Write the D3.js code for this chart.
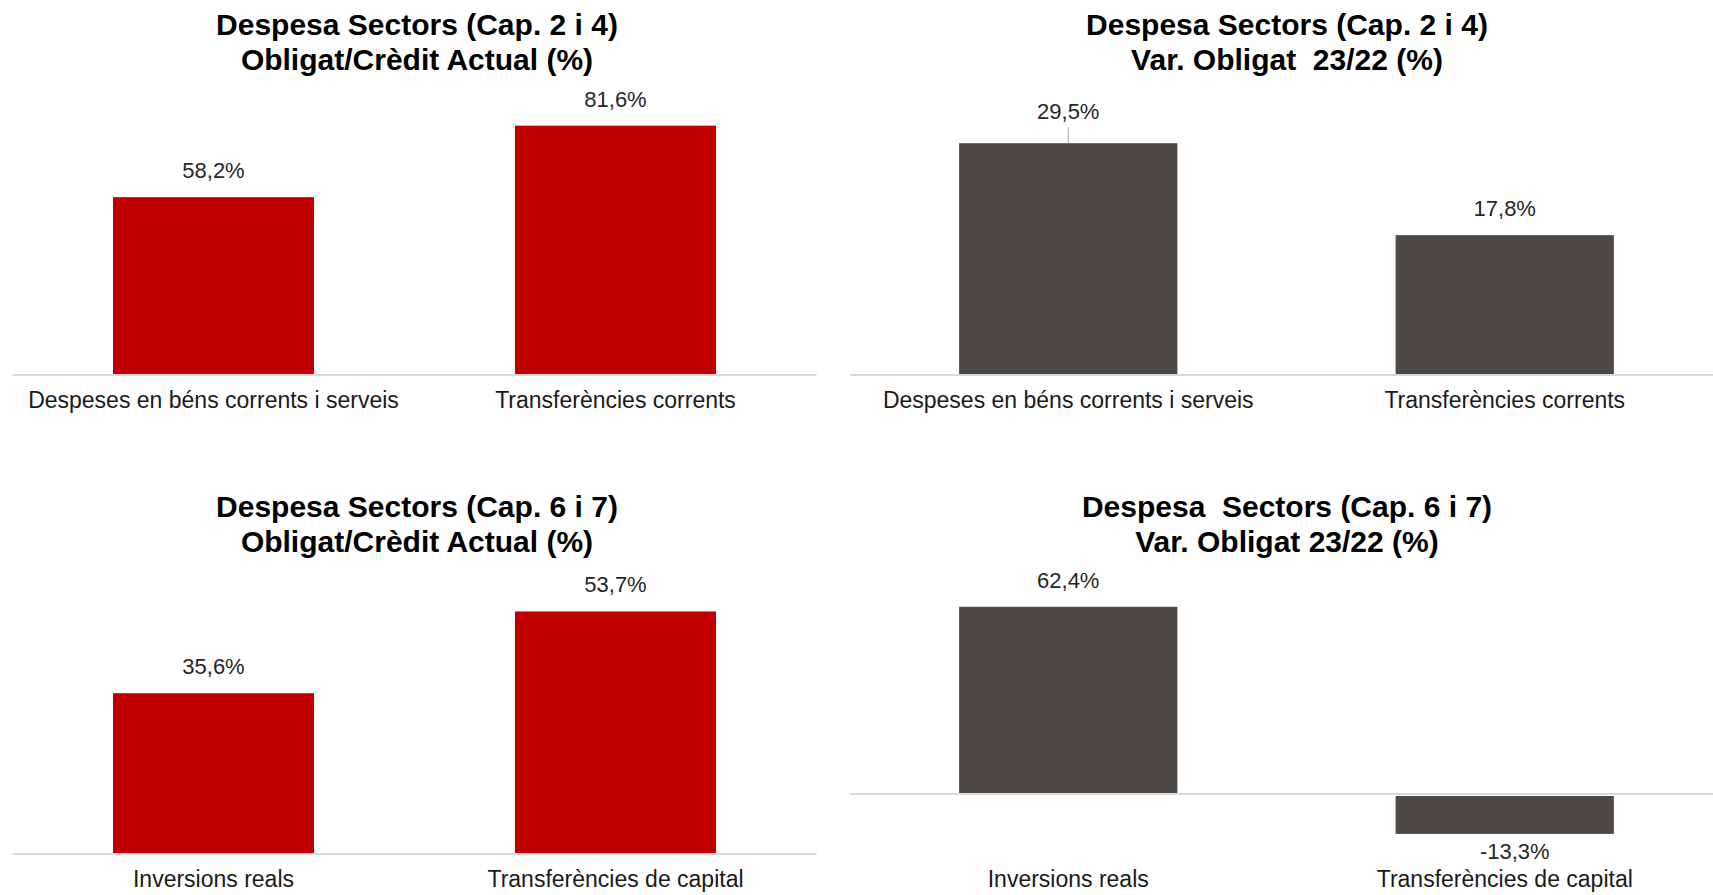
<!DOCTYPE html>
<html>
<head>
<meta charset="utf-8">
<script src="https://cdn.jsdelivr.net/npm/d3@7"></script>
<style>
  html, body { margin: 0; padding: 0; background: #ffffff; }
  svg { display: block; }
  text { font-family: "Liberation Sans", Arial, sans-serif; }
</style>
</head>
<body>
<svg id="chart" width="1713" height="895"></svg>
<script>
// ---- Data ----
const catsCap24 = ["Despeses en béns corrents i serveis", "Transferències corrents"];
const catsCap67 = ["Inversions reals", "Transferències de capital"];

const execCap24 = [58.2, 81.6];   // Obligat/Crèdit Actual (%) Cap. 2 i 4
const varCap24  = [29.5, 17.8];   // Var. Obligat 23/22 (%) Cap. 2 i 4
const execCap67 = [35.6, 53.7];   // Obligat/Crèdit Actual (%) Cap. 6 i 7
const varCap67  = [62.4, -13.3];  // Var. Obligat 23/22 (%) Cap. 6 i 7

const titlesTL = ["Despesa Sectors (Cap. 2 i 4)", "Obligat/Crèdit Actual (%)"];
const titlesTR = ["Despesa Sectors (Cap. 2 i 4)", "Var. Obligat  23/22 (%)"];
const titlesBL = ["Despesa Sectors (Cap. 6 i 7)", "Obligat/Crèdit Actual (%)"];
const titlesBR = ["Despesa  Sectors (Cap. 6 i 7)", "Var. Obligat 23/22 (%)"];

// value-axis extents (hidden axes)
const yDomainTL = [0, 90];
const yDomainTR = [0, 35];
const yDomainBL = [0, 60];
const yDomainBR = [-20, 80];

const fmt = v => d3.format(".1f")(v).replace(".", ",").replace("\u2212", "-") + "%";

// ---- Layout ----
const RED = "#c00000", GREY = "#4d4947";
const panels = [
  { cats: catsCap24, vals: execCap24, titles: titlesTL, dom: yDomainTL, color: RED,
    x: [12.5, 816.5], y: [375, 100], titleX: 417, titleY: 35, labelAtBottom: false },
  { cats: catsCap24, vals: varCap24, titles: titlesTR, dom: yDomainTR, color: GREY,
    x: [850, 1723], y: [375, 100], titleX: 1287, titleY: 35, labelAtBottom: false, leader: [0] },
  { cats: catsCap67, vals: execCap67, titles: titlesBL, dom: yDomainBL, color: RED,
    x: [12.5, 816.5], y: [854, 583], titleX: 417, titleY: 517, labelAtBottom: false },
  { cats: catsCap67, vals: varCap67, titles: titlesBR, dom: yDomainBR, color: GREY,
    x: [850, 1723], y: [854, 554], titleX: 1287, titleY: 517, labelAtBottom: true }
];

const svg = d3.select("#chart");

panels.forEach(p => {
  const g = svg.append("g");
  const x = d3.scaleBand().domain(p.cats).range(p.x).paddingInner(0.5).paddingOuter(0.25);
  const y = d3.scaleLinear().domain(p.dom).range(p.y);
  const data = p.cats.map((c, i) => ({ c, v: p.vals[i], i }));

  // title
  const t = g.append("text")
    .attr("text-anchor", "middle")
    .attr("font-weight", "bold")
    .attr("font-size", 30)
    .attr("fill", "#000")
    .style("white-space", "pre");
  p.titles.forEach((s, i) => {
    t.append("tspan").attr("x", p.titleX).attr("y", p.titleY + i * 35).text(s);
  });

  // bars
  g.selectAll("rect.bar").data(data).join("rect")
    .attr("class", "bar")
    .attr("x", d => x(d.c))
    .attr("width", x.bandwidth())
    .attr("y", d => d.v >= 0 ? y(d.v) : y(0) + 2)
    .attr("height", d => d.v >= 0 ? y(0) - y(d.v) : y(d.v) - y(0) - 2)
    .attr("fill", p.color);

  // zero line
  g.append("line")
    .attr("x1", p.x[0]).attr("x2", Math.min(p.x[1], 1713))
    .attr("y1", y(0)).attr("y2", y(0))
    .attr("stroke", "#d9d9d9").attr("stroke-width", 2);

  // data labels
  const lead = p.leader || [];
  data.forEach(d => {
    const cx = x(d.c) + x.bandwidth() / 2;
    let ly, dx = 0;
    if (d.v >= 0) {
      ly = y(d.v) - 19 - (lead.includes(d.i) ? 5 : 0);
    } else {
      ly = y(d.v) + 25; dx = 10;
    }
    g.append("text")
      .attr("x", cx + dx).attr("y", ly)
      .attr("text-anchor", "middle")
      .attr("font-size", 22)
      .attr("fill", "#262626")
      .text(fmt(d.v));
    if (lead.includes(d.i)) {
      g.append("line")
        .attr("x1", cx).attr("x2", cx)
        .attr("y1", ly + 8).attr("y2", y(d.v))
        .attr("stroke", "#a6a6a6").attr("stroke-width", 1);
    }
  });

  // category labels
  const base = p.labelAtBottom ? p.y[0] : y(0);
  g.selectAll("text.cat").data(data).join("text")
    .attr("class", "cat")
    .attr("x", d => x(d.c) + x.bandwidth() / 2)
    .attr("y", base + 33)
    .attr("text-anchor", "middle")
    .attr("font-size", 23)
    .attr("fill", "#1a1a1a")
    .text(d => d.c);
});
</script>
</body>
</html>
